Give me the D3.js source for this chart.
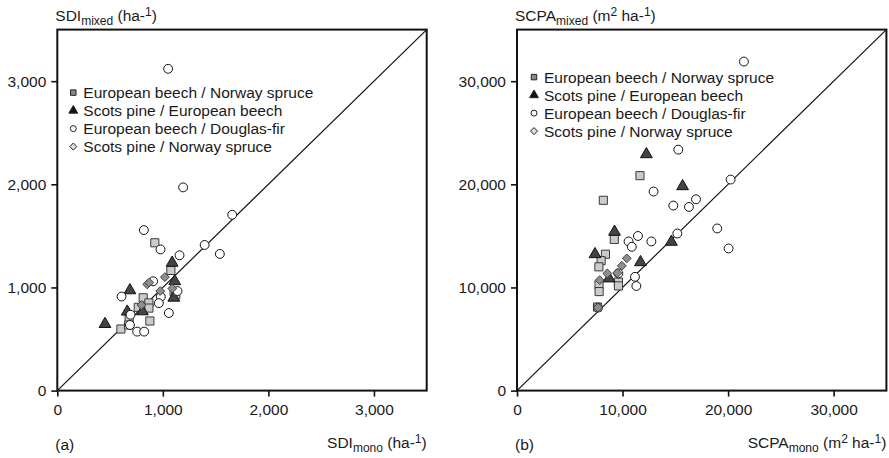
<!DOCTYPE html>
<html>
<head>
<meta charset="utf-8">
<script src="https://cdn.jsdelivr.net/npm/d3@7"></script>
<style>
  body { margin: 0; background: #fff; }
  text { font-family: 'Liberation Sans', Arial, sans-serif; fill: #1a1a1a; }
</style>
</head>
<body>
<svg id="mainsvg" width="889" height="458"></svg>
<script>
// series names (legend order)
const seriesNames = [
  'European beech / Norway spruce',
  'Scots pine / European beech',
  'European beech / Douglas-fir',
  'Scots pine / Norway spruce'
];

// panel (a): [SDI mono, SDI mixed]
const sdiBeechSpruce = [[924, 1433], [1076, 1165], [1107, 958], [1123, 930], [814, 900], [868, 850],
  [767, 807], [868, 800], [877, 675], [603, 597], [681, 705], [675, 636]];
const sdiPineBeech = [[1088, 1239], [1113, 1060], [1104, 900], [688, 972], [663, 765], [806, 768], [452, 645]];
const sdiBeechDouglas = [[1050, 3120], [1192, 1970], [1657, 1705], [820, 1556], [978, 1369], [1158, 1312],
  [1396, 1412], [1540, 1325], [908, 1060], [609, 912], [981, 910], [962, 848], [1057, 752], [694, 735],
  [688, 636], [757, 572], [823, 572], [1139, 965]];
const sdiPineSpruce = [[852, 1030], [871, 1048], [1019, 1100], [975, 965], [1090, 990], [798, 830]];

// panel (b): [SCPA mono, SCPA mixed]
const scpaBeechSpruce = [[11650, 20840], [8180, 18450], [9220, 14660], [8380, 13220], [7970, 12600],
  [7760, 12000], [7770, 10250], [7780, 9600], [9610, 10520], [9610, 10150], [7630, 8100]];
const scpaPineBeech = [[12260, 22910], [15690, 19810], [9240, 15390], [7390, 13220], [14630, 14420],
  [11700, 12440], [8730, 10870]];
const scpaBeechDouglas = [[21500, 31900], [15280, 23360], [20240, 20460], [12940, 19300], [14810, 17940],
  [16290, 17810], [16960, 18550], [18970, 15720], [20050, 13780], [15190, 15230], [12730, 14460],
  [11460, 14990], [10570, 14460], [10880, 13940], [9600, 11360], [11180, 11030], [11310, 10140], [7670, 8050]];
const scpaPineSpruce = [[10400, 12820], [9930, 12100], [8560, 11360], [9500, 11400], [7830, 10710], [7670, 8050]];

const sdiTicks = [0, 1000, 2000, 3000];
const scpaTicks = [0, 10000, 20000, 30000];

const svg = d3.select('#mainsvg');
const fontSize = 15.5;

// marker styles: plot symbol and smaller legend symbol
const styles = [
  { type: d3.symbolSquare, size: 66, fill: '#cbcbcb', stroke: '#3a3a3a', lsize: 30, lfill: '#8a8a8a' },
  { type: d3.symbolTriangle, size: 60, fill: '#444', stroke: '#111', lsize: 34, lfill: '#111' },
  { type: d3.symbolCircle, size: 62, fill: '#fff', stroke: '#111', lsize: 28, lfill: '#fff' },
  { type: d3.symbolDiamond2, size: 50, fill: '#8e8e8e', stroke: '#444', lsize: 32, lfill: '#ddd' }
];

function label(sel, parts) {
  // parts: [text, kind] kind: n normal, sub, sup
  let shift = 0;
  parts.forEach(([t, kind]) => {
    const target = kind === 'sub' ? 4 : kind === 'sup' ? -5 : 0;
    sel.append('tspan')
      .attr('dy', target - shift)
      .attr('font-size', kind === 'n' ? fontSize : 12)
      .text(t);
    shift = target;
  });
}

function panel(opt) {
  const left = opt.left, top = 29.6, w = 369.4, h = 361;
  const g = svg.append('g').attr('transform', `translate(${left},${top})`);
  const x = d3.scaleLinear().domain([0, opt.max]).range([0, w]);
  const y = d3.scaleLinear().domain([0, opt.max]).range([h, 0]);

  g.append('line')
    .attr('x1', x(0)).attr('y1', y(0))
    .attr('x2', x(opt.max)).attr('y2', y(opt.max))
    .attr('stroke', '#111').attr('stroke-width', 1.2);

  const xAxis = d3.axisBottom(x).tickValues(opt.ticks).tickFormat(d3.format(','))
    .tickSize(6).tickPadding(7);
  const yAxis = d3.axisLeft(y).tickValues(opt.ticks).tickFormat(d3.format(','))
    .tickSize(6).tickPadding(5);
  const gx = g.append('g').attr('transform', `translate(0,${h})`).call(xAxis);
  const gy = g.append('g').call(yAxis);
  [gx, gy].forEach(a => {
    a.select('.domain').remove();
    a.selectAll('.tick line').attr('stroke', '#111').attr('stroke-width', 1.6);
    a.selectAll('.tick text').attr('font-size', fontSize).attr('font-family', 'Liberation Sans, Arial, sans-serif').attr('fill', '#1a1a1a');
  });

  opt.data.forEach((pts, i) => {
    const s = styles[i];
    g.append('g').selectAll('path').data(pts).join('path')
      .attr('d', d3.symbol(s.type, s.size))
      .attr('transform', d => `translate(${x(d[0])},${y(d[1])})`)
      .attr('fill', s.fill).attr('stroke', s.stroke).attr('stroke-width', 1);
  });

  g.append('rect').attr('x', 0).attr('y', 0).attr('width', w).attr('height', h)
    .attr('fill', 'none').attr('stroke', '#111').attr('stroke-width', 2);

  // legend
  const lg = g.append('g').attr('transform', `translate(${opt.legX},${opt.legY})`);
  seriesNames.forEach((name, i) => {
    const s = styles[i];
    lg.append('path').attr('d', d3.symbol(s.type, s.lsize))
      .attr('transform', `translate(0,${i * 18})`)
      .attr('fill', s.lfill).attr('stroke', '#222').attr('stroke-width', 1);
    lg.append('text').attr('x', 10).attr('y', i * 18 + 5.5)
      .attr('font-size', fontSize).text(name);
  });

  label(g.append('text').attr('x', -2).attr('y', -8.6), opt.yLabel);
  label(g.append('text').attr('x', w).attr('y', h + 57).attr('text-anchor', 'end'), opt.xLabel);
  g.append('text').attr('x', -2).attr('y', h + 59).attr('font-size', fontSize).text(opt.tag);
}

panel({
  left: 57.3, max: 3500, ticks: sdiTicks,
  data: [sdiBeechSpruce, sdiPineBeech, sdiBeechDouglas, sdiPineSpruce],
  legX: 16, legY: 63,
  yLabel: [['SDI', 'n'], ['mixed', 'sub'], [' (ha-', 'n'], ['1', 'sup'], [')', 'n']],
  xLabel: [['SDI', 'n'], ['mono', 'sub'], [' (ha-', 'n'], ['1', 'sup'], [')', 'n']],
  tag: '(a)'
});

panel({
  left: 517, max: 35000, ticks: scpaTicks,
  data: [scpaBeechSpruce, scpaPineBeech, scpaBeechDouglas, scpaPineSpruce],
  legX: 17, legY: 47.5,
  yLabel: [['SCPA', 'n'], ['mixed', 'sub'], [' (m', 'n'], ['2', 'sup'], [' ha-', 'n'], ['1', 'sup'], [')', 'n']],
  xLabel: [['SCPA', 'n'], ['mono', 'sub'], [' (m', 'n'], ['2', 'sup'], [' ha-', 'n'], ['1', 'sup'], [')', 'n']],
  tag: '(b)'
});
</script>
</body>
</html>
